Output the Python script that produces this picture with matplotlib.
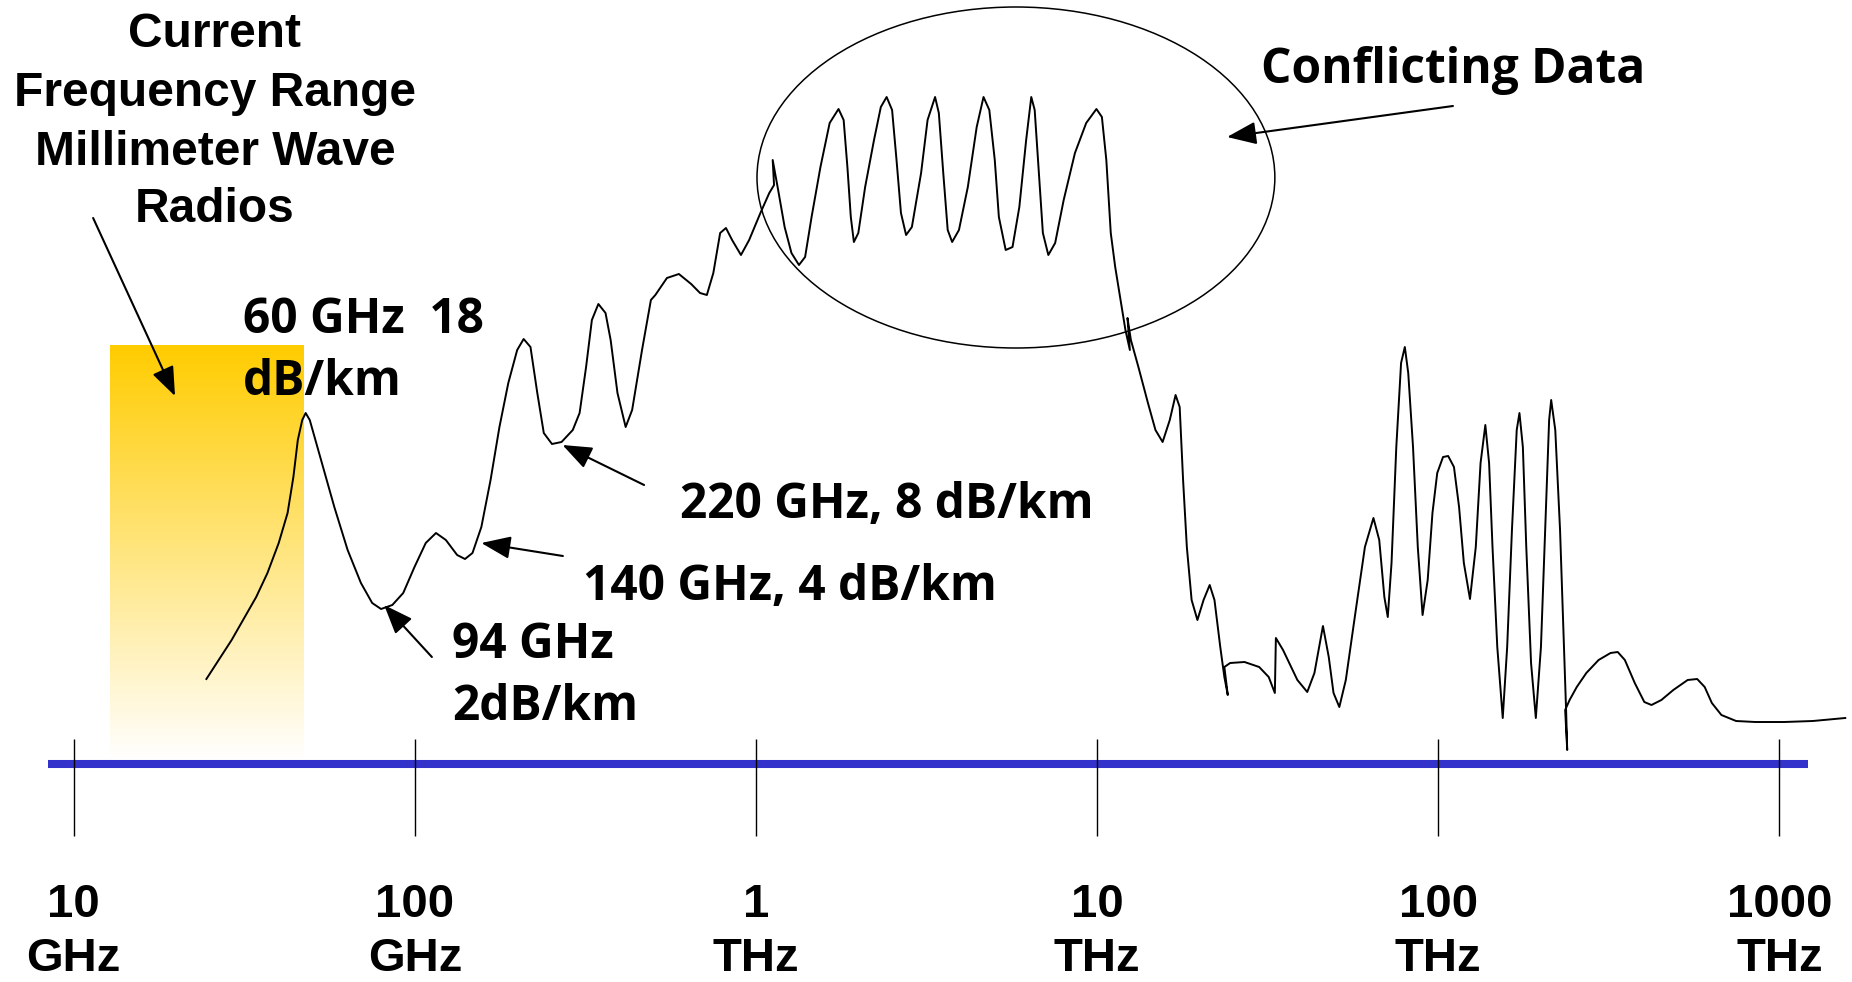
import numpy as np
import matplotlib
matplotlib.use("Agg")
import matplotlib.pyplot as plt
from matplotlib.patches import Ellipse

# ---------------- data ----------------
# frequency as log10(GHz); level = relative attenuation height above the axis line
curve_log10_ghz = [
    1.389, 1.463, 1.535, 1.568, 1.601, 1.627, 1.644, 1.657, 1.670, 1.680,
    1.692, 1.725, 1.764, 1.803, 1.842, 1.875, 1.901, 1.934, 1.966, 1.999,
    2.032, 2.062, 2.091, 2.124, 2.147, 2.169, 2.195, 2.222, 2.248, 2.274,
    2.300, 2.319, 2.339, 2.359, 2.378, 2.402, 2.430, 2.463, 2.483, 2.502,
    2.519, 2.538, 2.559, 2.574, 2.594, 2.618, 2.637, 2.666, 2.692, 2.705,
    2.739, 2.774, 2.810, 2.836, 2.856, 2.875, 2.895, 2.912, 2.930, 2.956,
    2.980, 3.013, 3.039, 3.053, 3.049, 3.065, 3.084, 3.104, 3.126, 3.144,
    3.163, 3.189, 3.216, 3.242, 3.257, 3.268, 3.278, 3.287, 3.300, 3.320,
    3.346, 3.366, 3.383, 3.399, 3.412, 3.425, 3.440, 3.457, 3.484, 3.503,
    3.525, 3.536, 3.549, 3.562, 3.575, 3.595, 3.621, 3.647, 3.667, 3.684,
    3.700, 3.712, 3.732, 3.752, 3.772, 3.792, 3.807, 3.817, 3.828, 3.841,
    3.857, 3.877, 3.902, 3.935, 3.968, 3.998, 4.014, 4.027, 4.040, 4.053,
    4.072, 4.083, 4.096, 4.089, 4.099, 4.121, 4.149, 4.171, 4.192, 4.213,
    4.230, 4.242, 4.252, 4.263, 4.277, 4.294, 4.312, 4.330, 4.344, 4.361,
    4.373, 4.383, 4.373, 4.390, 4.432, 4.475, 4.503, 4.521, 4.524, 4.545,
    4.587, 4.616, 4.637, 4.662, 4.679, 4.693, 4.710, 4.729, 4.757, 4.785,
    4.810, 4.827, 4.842, 4.852, 4.863, 4.877, 4.891, 4.902, 4.912, 4.926,
    4.940, 4.954, 4.969, 4.983, 4.997, 5.014, 5.029, 5.046, 5.061, 5.075,
    5.093, 5.110, 5.124, 5.138, 5.149, 5.159, 5.173, 5.189, 5.202, 5.216,
    5.230, 5.238, 5.248, 5.258, 5.272, 5.286, 5.301, 5.315, 5.325, 5.331,
    5.343, 5.357, 5.367, 5.375, 5.378, 5.372, 5.385, 5.406, 5.434, 5.470,
    5.505, 5.526, 5.547, 5.576, 5.604, 5.625, 5.654, 5.689, 5.731, 5.759,
    5.781, 5.802, 5.830, 5.873, 5.929, 6.014, 6.098, 6.193,
]
curve_level = [
    85, 124, 167, 191, 221, 251, 287, 324, 344, 351,
    344, 304, 257, 214, 181, 161, 155, 159, 171, 197,
    221, 231, 224, 209, 205, 211, 237, 284, 337, 381,
    414, 425, 417, 371, 331, 320, 322, 334, 351, 397,
    444, 460, 451, 424, 371, 337, 354, 414, 464, 469,
    486, 490, 480, 471, 469, 491, 531, 536, 524, 509,
    524, 551, 571, 579, 604, 574, 537, 511, 499, 507,
    547, 597, 641, 655, 644, 597, 547, 522, 531, 577,
    624, 657, 667, 654, 604, 551, 529, 537, 591, 644,
    667, 651, 591, 534, 522, 534, 577, 637, 667, 654,
    604, 547, 514, 517, 557, 624, 667, 654, 597, 531,
    509, 521, 564, 611, 641, 655, 647, 604, 531, 497,
    457, 434, 414, 446, 424, 397, 361, 334, 322, 344,
    369, 357, 284, 217, 164, 144, 164, 179, 164, 117,
    87, 69, 97, 101, 102, 97, 87, 71, 126, 114,
    84, 72, 91, 138, 107, 71, 57, 84, 151, 217,
    246, 224, 167, 147, 201, 317, 401, 417, 391, 317,
    217, 149, 184, 251, 291, 307, 308, 297, 257, 201,
    165, 217, 301, 339, 301, 217, 117, 46, 117, 234,
    334, 351, 317, 217, 101, 46, 117, 251, 344, 364,
    334, 234, 134, 51, 14, 54, 64, 77, 91, 104,
    111, 112, 104, 81, 62, 59, 64, 74, 84, 85,
    77, 61, 49, 43, 42, 42, 43, 46,
]

tick_log10_ghz = [1, 2, 3, 4, 5, 6]
tick_values = ["10", "100", "1", "10", "100", "1000"]
tick_units = ["GHz", "GHz", "THz", "THz", "THz", "THz"]

band_log10_ghz = [1.106, 1.674]      # current mm-wave radio band
band_top_level = 419

axis_line_log10_ghz = [0.925, 6.084]

header_lines = ["Current", "Frequency Range", "Millimeter Wave", "Radios"]
header_x = 1.414
header_levels = [717, 658, 599.5, 542]

# (text, x, level) left-aligned labels
labels = [
    ("60 GHz  18", 1.496, 431),
    ("dB/km", 1.496, 369),
    ("94 GHz", 2.110, 106),
    ("2dB/km", 2.110, 44),
    ("140 GHz, 4 dB/km", 2.493, 164),
    ("220 GHz, 8 dB/km", 2.777, 246),
]
conflict_text = ("Conflicting Data", 5.043, 681)

# arrows: (tail x, tail level, tip x, tip level)
arrows = [
    (1.057, 546, 1.297, 368),
    (2.050, 107, 1.910, 159),
    (2.434, 208, 2.195, 221),
    (2.672, 279, 2.433, 319),
    (5.043, 658, 4.381, 627),
]

ellipse_center = (3.762, 586.5)
ellipse_size = (1.518, 341)

# ---------------- drawing ----------------
fig = plt.figure(figsize=(18.52, 9.82), dpi=100)
ax = fig.add_axes([0, 0, 1, 1])
ax.set_xlim(0.784, 6.2128)
ax.set_ylim(-218, 764)
ax.axis("off")

# yellow gradient band
n = 256
frac = np.linspace(0, 1, n)[:, None]
top = np.array([1.0, 0.8, 0.0])
bot = np.array([1.0, 1.0, 1.0])
grad = (top[None, None, :] * (1 - frac[..., None]) + bot[None, None, :] * frac[..., None])
ax.imshow(grad, extent=[band_log10_ghz[0], band_log10_ghz[1], 4, band_top_level],
          origin="upper", aspect="auto", zorder=0, interpolation="bilinear")

# axis line and decade ticks
ax.plot(axis_line_log10_ghz, [0, 0], color="#3333CC", lw=5.8,
        solid_capstyle="butt", zorder=2)
ax.vlines(tick_log10_ghz, -72, 25, color="black", lw=1.0, zorder=3)

tick_font = dict(family=["Liberation Sans", "DejaVu Sans"], weight="bold", size=34)
for xv, v, u in zip(tick_log10_ghz, tick_values, tick_units):
    ax.text(xv, -153, v, ha="center", va="baseline", **tick_font)
    ax.text(xv, -217, u, ha="center", va="bottom", **tick_font)

# attenuation curve
ax.plot(curve_log10_ghz, curve_level, color="black", lw=1.4,
        solid_joinstyle="round", zorder=4)

# ellipse around conflicting data
ax.add_patch(Ellipse(ellipse_center, ellipse_size[0], ellipse_size[1],
                     fill=False, edgecolor="black", lw=1.1, zorder=4))

# texts
for line, lv in zip(header_lines, header_levels):
    ax.text(header_x, lv, line, ha="center", va="baseline",
            family=["Liberation Sans", "DejaVu Sans"], weight="bold", size=34.5)

lab_font = dict(family=["Open Sans", "DejaVu Sans"], weight="bold", size=34.5)
for t, xv, lv in labels:
    ax.text(xv, lv, t, ha="left", va="baseline", zorder=5, **lab_font)
ax.text(conflict_text[1], conflict_text[2], conflict_text[0], ha="center",
        va="baseline", **lab_font)

for x0, y0, x1, y1 in arrows:
    ax.annotate("", xy=(x1, y1), xytext=(x0, y0),
                arrowprops=dict(arrowstyle="-|>,head_length=0.9,head_width=0.35",
                                mutation_scale=20, lw=1.5, color="black",
                                shrinkA=0, shrinkB=0), zorder=5)

fig.savefig("out.png", dpi=100)
